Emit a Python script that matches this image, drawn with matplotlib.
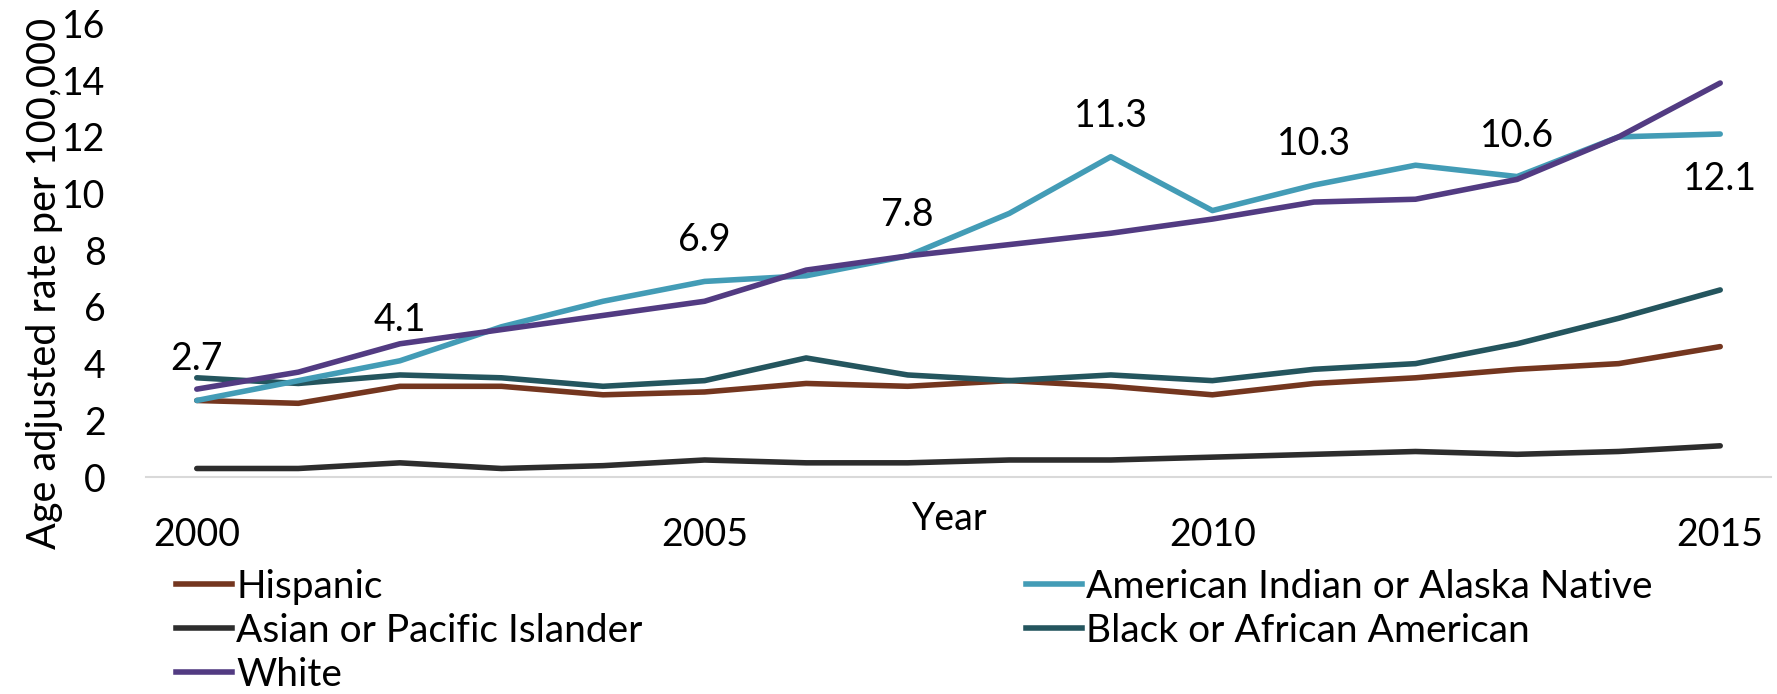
import matplotlib
matplotlib.use("Agg")
import matplotlib.pyplot as plt
from matplotlib.lines import Line2D

years = list(range(2000, 2016))
hispanic = [2.7, 2.6, 3.2, 3.2, 2.9, 3.0, 3.3, 3.2, 3.4, 3.2, 2.9, 3.3, 3.5, 3.8, 4.0, 4.6]
aian = [2.7, 3.4, 4.1, 5.3, 6.2, 6.9, 7.1, 7.8, 9.3, 11.3, 9.4, 10.3, 11.0, 10.6, 12.0, 12.1]
asian = [0.3, 0.3, 0.5, 0.3, 0.4, 0.6, 0.5, 0.5, 0.6, 0.6, 0.7, 0.8, 0.9, 0.8, 0.9, 1.1]
black = [3.5, 3.3, 3.6, 3.5, 3.2, 3.4, 4.2, 3.6, 3.4, 3.6, 3.4, 3.8, 4.0, 4.7, 5.6, 6.6]
white = [3.1, 3.7, 4.7, 5.2, 5.7, 6.2, 7.3, 7.8, 8.2, 8.6, 9.1, 9.7, 9.8, 10.5, 12.0, 13.9]
label_years = [2000, 2002, 2005, 2007, 2009, 2011, 2013, 2015]
xtick_years = [2000, 2005, 2010, 2015]
yticks = [0, 2, 4, 6, 8, 10, 12, 14, 16]

colors = {"Hispanic": "#74361F", "American Indian or Alaska Native": "#439CB6",
          "Asian or Pacific Islander": "#2D2D2D", "Black or African American": "#24555E",
          "White": "#523B82"}
series = {"Hispanic": hispanic, "American Indian or Alaska Native": aian,
          "Asian or Pacific Islander": asian, "Black or African American": black,
          "White": white}

plt.rcParams['font.family'] = ['Lato', 'DejaVu Sans']
FS = 27

W, H = 1777, 694
fig = plt.figure(figsize=(W / 100, H / 100), dpi=100)
ax = fig.add_axes([146 / W, 1 - 477 / H, (1771 - 146) / W, (477 - 23.5) / H])

order = ["Hispanic", "Asian or Pacific Islander", "Black or African American",
         "American Indian or Alaska Native", "White"]
for n in order:
    ax.plot(years, series[n], color=colors[n], lw=4, solid_capstyle='round',
            solid_joinstyle='round')

for y in label_years:
    v = aian[years.index(y)]
    off = -45 if y == 2015 else 41
    ax.annotate(f"{v:.1f}", (y, v), xytext=(0, off * 0.72), textcoords='offset points',
                ha='center', va='center', fontsize=FS, color='black')

ax.set_xlim(1999.5, 2015.5)
ax.set_ylim(0, 16)
ax.set_xticks(xtick_years)
ax.set_xticklabels([str(t) for t in xtick_years])
ax.set_yticks(yticks)
ax.tick_params(axis='both', length=0, labelsize=FS)
ax.tick_params(axis='x', pad=29)
ax.tick_params(axis='y', pad=29)
for s in ['top', 'right', 'left']:
    ax.spines[s].set_visible(False)
ax.spines['bottom'].set_color('#D9D9D9')
ax.spines['bottom'].set_linewidth(1.5)

fig.text(45 / W, 1 - 283 / H, "Age adjusted rate per 100,000", rotation=90,
         ha='center', va='center', fontsize=28.5)
fig.text(950 / W, 1 - 519 / H, "Year", ha='center', va='center', fontsize=FS)

def make_legend(ns, x, y):
    hs = [Line2D([0], [0], color=colors[n], lw=4) for n in ns]
    leg = fig.legend(hs, ns, loc='upper left', bbox_to_anchor=(x / W, 1 - y / H),
                     frameon=False, fontsize=28, handlelength=1.45, handletextpad=0.1,
                     labelspacing=0.2, borderpad=0, borderaxespad=0)
    return leg

make_legend(["Hispanic", "Asian or Pacific Islander", "White"], 176, 569)
make_legend(["American Indian or Alaska Native", "Black or African American"], 1026, 569)

fig.savefig("out.png", dpi=100)
